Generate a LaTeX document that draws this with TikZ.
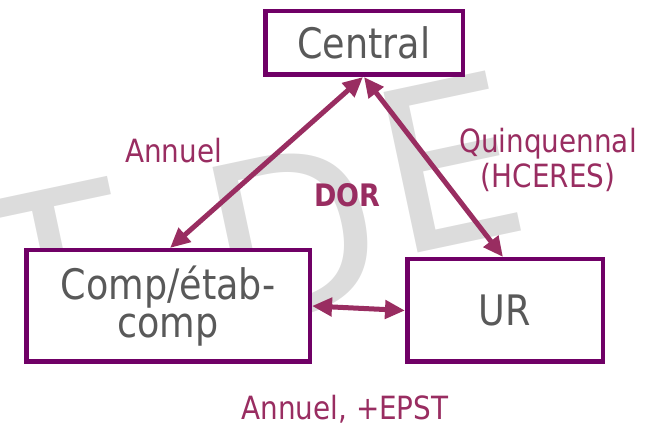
\documentclass[tikz,border=0pt]{standalone}
\usepackage{fontspec}
\setmainfont[FakeStretch=0.87]{DejaVu Sans}
\newfontfamily\wmfont{DejaVu Sans}
\usetikzlibrary{arrows.meta}
\definecolor{boxc}{RGB}{112,0,102}
\definecolor{arrc}{RGB}{153,45,97}
\definecolor{labc}{RGB}{153,45,97}
\definecolor{txtc}{RGB}{89,89,89}
\definecolor{wmc}{RGB}{220,220,220}
\begin{document}
\begin{tikzpicture}[x=1pt,y=1pt,
 box/.style={draw=boxc, line width=4.5pt, fill=white, inner sep=0pt, text=txtc,
   font=\fontsize{42}{38}\selectfont, align=center},
 lab/.style={text=labc, font=\fontsize{32}{35}\selectfont, inner sep=0pt, anchor=base},
 wmark/.style={text=wmc, font=\wmfont\fontsize{225}{225}\selectfont, inner sep=0pt,
   rotate=12, anchor=base west},
 link/.style={draw=arrc, line width=5pt,
   {Triangle[length=20pt,width=18pt]}-{Triangle[length=20pt,width=18pt]}}]
\useasboundingbox (0,0) rectangle (659,-427);
\begin{scope}
\clip (0,0) rectangle (659,-427);
\node[wmark] (wmT) at (6.6,-366) {T};
\node[wmark] (wmD) at (225,-333) {D};
\node[wmark] (wmE) at (396.5,-257.6) {E};
\end{scope}
\node[box, minimum width=197.5pt, minimum height=63.5pt] (central) at (364,-43) {Central};
\node[box, minimum width=283.5pt, minimum height=111.5pt] (comp) at (168,-306) {Comp/étab-\\comp};
\node[box, minimum width=195.5pt, minimum height=102.5pt] (ur) at (505,-310.5) {UR};
\draw[link] ([xshift=-1pt]central.south) -- ([xshift=2pt]comp.north);
\draw[link] ([xshift=0pt]central.south) -- ([xshift=-2pt]ur.north);
\draw[link] (comp.east) -- (ur.west);
\node[lab] (annuel) at (173.5,-163) {Annuel};
\node[lab, font=\bfseries\fontsize{31}{35}\selectfont] (dor) at (347.5,-207) {DOR};
\node[lab] (quinq) at (548,-153) {Quinquennal};
\node[lab] (hceres) at (548,-188) {(HCERES)};
\node[lab] (epst) at (345,-420) {Annuel, +EPST};
\end{tikzpicture}
\end{document}
